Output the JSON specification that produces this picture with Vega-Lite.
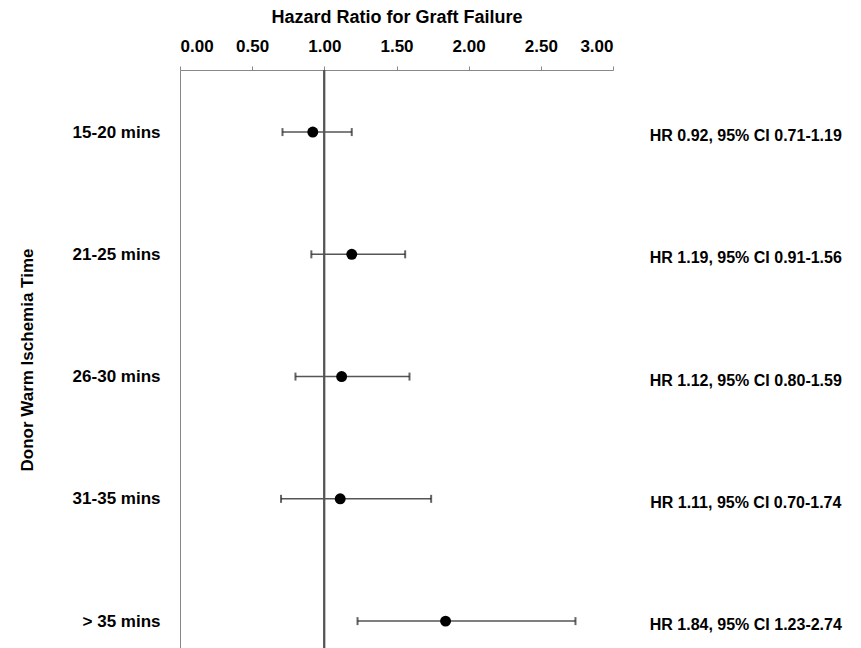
{
  "$schema": "https://vega.github.io/schema/vega-lite/v6.json",
  "width": 433,
  "height": 579,
  "autosize": {"type": "pad"},
  "padding": {"left": 18, "top": 8, "right": 5, "bottom": 0},
  "config": {
    "view": {"stroke": null},
    "font": "Liberation Sans",
    "axis": {"labelColor": "#000", "titleColor": "#000"}
  },
  "data": {
    "values": [
      {"group": "15-20 mins", "hr": 0.92, "lo": 0.71, "hi": 1.19, "label": "HR 0.92, 95% CI 0.71-1.19"},
      {"group": "21-25 mins", "hr": 1.19, "lo": 0.91, "hi": 1.56, "label": "HR 1.19, 95% CI 0.91-1.56"},
      {"group": "26-30 mins", "hr": 1.12, "lo": 0.80, "hi": 1.59, "label": "HR 1.12, 95% CI 0.80-1.59"},
      {"group": "31-35 mins", "hr": 1.11, "lo": 0.70, "hi": 1.74, "label": "HR 1.11, 95% CI 0.70-1.74"},
      {"group": "> 35 mins", "hr": 1.84, "lo": 1.23, "hi": 2.74, "label": "HR 1.84, 95% CI 1.23-2.74"}
    ]
  },
  "layer": [
    {
      "mark": {"type": "rule", "color": "#555", "strokeWidth": 1.5},
      "encoding": {
        "x": {
          "field": "lo", "type": "quantitative",
          "scale": {"domain": [0, 3], "nice": false, "zero": false},
          "axis": {
            "orient": "top",
            "values": [0, 0.5, 1, 1.5, 2, 2.5, 3],
            "format": ".2f",
            "grid": false,
            "domainColor": "#888",
            "tickColor": "#888",
            "tickSize": 4,
            "labelFontSize": 17,
            "labelFontWeight": "bold",
            "labelPadding": 11,
            "title": "Hazard Ratio for Graft Failure",
            "titleFontSize": 18,
            "titleFontWeight": "bold",
            "titlePadding": 11
          }
        },
        "x2": {"field": "hi"},
        "y": {
          "field": "group", "type": "nominal", "sort": null,
          "scale": {"type": "point", "padding": 0.368, "align": 0.69},
          "axis": {
            "orient": "left",
            "ticks": false,
            "domainColor": "#888",
            "labelFontSize": 17,
            "labelFontWeight": "bold",
            "labelPadding": 20,
            "title": "Donor Warm Ischemia Time",
            "titleFontSize": 17,
            "titleFontWeight": "bold",
            "titlePadding": 36
          }
        }
      }
    },
    {
      "mark": {"type": "rule", "color": "#555", "strokeWidth": 1.5},
      "encoding": {"x": {"datum": 1, "type": "quantitative"}}
    },
    {
      "mark": {"type": "tick", "color": "#222", "thickness": 2, "size": 8, "orient": "vertical"},
      "encoding": {
        "x": {"field": "lo", "type": "quantitative"},
        "y": {"field": "group", "type": "nominal", "sort": null}
      }
    },
    {
      "mark": {"type": "tick", "color": "#222", "thickness": 2, "size": 8, "orient": "vertical"},
      "encoding": {
        "x": {"field": "hi", "type": "quantitative"},
        "y": {"field": "group", "type": "nominal", "sort": null}
      }
    },
    {
      "mark": {"type": "point", "filled": true, "color": "#000", "opacity": 1, "size": 120},
      "encoding": {
        "x": {"field": "hr", "type": "quantitative"},
        "y": {"field": "group", "type": "nominal", "sort": null}
      }
    },
    {
      "mark": {"type": "text", "align": "center", "fontSize": 16, "fontWeight": "bold", "dy": 4, "color": "#000"},
      "encoding": {
        "x": {"datum": 3.92, "type": "quantitative"},
        "y": {"field": "group", "type": "nominal", "sort": null},
        "text": {"field": "label"}
      }
    }
  ]
}
